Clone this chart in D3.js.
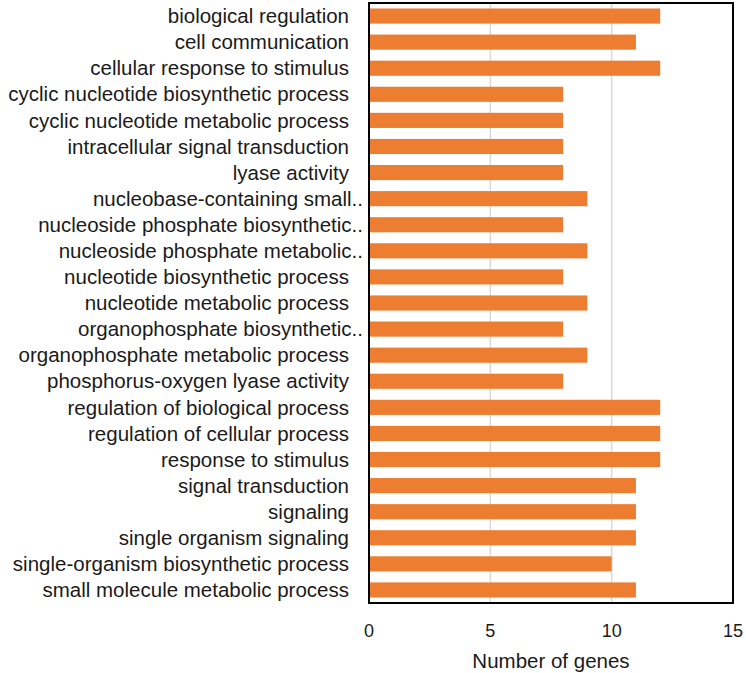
<!DOCTYPE html>
<html><head><meta charset="utf-8">
<script src="https://cdn.jsdelivr.net/npm/d3@7"></script>
<style>body{margin:0;background:#fff}text{font-family:"Liberation Sans",Arial,sans-serif;fill:#1a1a1a}</style>
</head><body><svg id="c" width="746" height="673"></svg>
<script>
const categories = ["biological regulation","cell communication","cellular response to stimulus","cyclic nucleotide biosynthetic process","cyclic nucleotide metabolic process","intracellular signal transduction","lyase activity","nucleobase-containing small..","nucleoside phosphate biosynthetic..","nucleoside phosphate metabolic..","nucleotide biosynthetic process","nucleotide metabolic process","organophosphate biosynthetic..","organophosphate metabolic process","phosphorus-oxygen lyase activity","regulation of biological process","regulation of cellular process","response to stimulus","signal transduction","signaling","single organism signaling","single-organism biosynthetic process","small molecule metabolic process"];
const values = [12,11,12,8,8,8,8,9,8,9,8,9,8,9,8,12,12,12,11,11,11,10,11];
const xTicks = [0,5,10,15];
const xTitle = "Number of genes";

const svg = d3.select("#c");
const L = 369, R = 733, T = 3, B = 603;
const x = d3.scaleLinear().domain([0,15]).range([L,R]);
const y = d3.scaleBand().domain(categories).range([T,B]).paddingInner(0.42).paddingOuter(0.21);

svg.append("g").selectAll("line").data(xTicks.slice(1,-1)).join("line")
  .attr("x1",d=>x(d)).attr("x2",d=>x(d)).attr("y1",T).attr("y2",B)
  .attr("stroke","#d9d9d9").attr("stroke-width",1.5);

svg.append("g").selectAll("rect").data(values).join("rect")
  .attr("x",x(0)).attr("y",(d,i)=>y(categories[i]))
  .attr("width",d=>x(d)-x(0)).attr("height",y.bandwidth())
  .attr("fill","#ED7D31");

svg.append("rect").attr("x",L).attr("y",T).attr("width",R-L).attr("height",B-T)
  .attr("fill","none").attr("stroke","#000").attr("stroke-width",2);

svg.append("g").selectAll("text").data(categories).join("text")
  .attr("x",d=>d.endsWith("..")?363:349).attr("y",d=>y(d)+y.bandwidth()/2)
  .attr("dy","0.35em").attr("text-anchor","end").attr("font-size",20.5).text(d=>d);

svg.append("g").selectAll("text").data(xTicks).join("text")
  .attr("x",d=>x(d)).attr("y",631).attr("dy","0.35em").attr("text-anchor","middle")
  .attr("font-size",18).text(d=>d);

svg.append("text").attr("x",(L+R)/2).attr("y",661).attr("dy","0.35em")
  .attr("text-anchor","middle").attr("font-size",20.5).text(xTitle);
</script></body></html>
